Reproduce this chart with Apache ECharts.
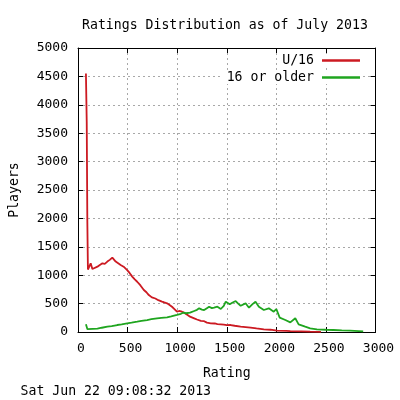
<!DOCTYPE html>
<html>
<head>
<meta charset="utf-8">
<script src="https://cdn.jsdelivr.net/npm/echarts@6/dist/echarts.min.js"></script>
<style>
html,body{margin:0;padding:0;background:#fff;}
#chart{width:400px;height:400px;}
</style>
</head>
<body>
<div id="chart"></div>
<script>
var titleText = 'Ratings Distribution as of July 2013';
var xAxisName = 'Rating';
var yAxisName = 'Players';
var timestamp = 'Sat Jun 22 09:08:32 2013';
var seriesNames = ['U/16', '16 or older'];
var xTicks = [0, 500, 1000, 1500, 2000, 2500, 3000];
var yTicks = [0, 500, 1000, 1500, 2000, 2500, 3000, 3500, 4000, 4500, 5000];

var u16Rating = [80, 88, 94, 100, 112, 128, 145, 162, 196, 220, 246, 270, 296, 320, 346, 380, 400, 430, 460, 496, 520, 547, 570, 597, 630, 664, 690, 714, 745, 780, 810, 847, 870, 898, 920, 948, 975, 998, 1020, 1048, 1070, 1088, 1105, 1130, 1172, 1200, 1239, 1272, 1300, 1339, 1380, 1406, 1440, 1470, 1500, 1540, 1580, 1640, 1690, 1740, 1800, 1874, 1940, 2008, 2100, 2141, 2250, 2341, 2450];
var u16Players = [4550, 3700, 1970, 1100, 1090, 1210, 1110, 1100, 1150, 1180, 1210, 1200, 1240, 1270, 1310, 1240, 1230, 1180, 1150, 1090, 1040, 975, 930, 885, 820, 740, 700, 650, 610, 590, 560, 535, 520, 505, 480, 445, 400, 357, 370, 357, 340, 330, 300, 270, 240, 220, 195, 190, 165, 153, 150, 140, 135, 130, 120, 123, 110, 93, 85, 76, 62, 47, 40, 23, 20, 15, 10, 5, 2];

var olderRating = [80, 95, 112, 150, 196, 240, 296, 340, 396, 440, 496, 540, 597, 640, 697, 740, 797, 840, 898, 940, 998, 1038, 1060, 1088, 1105, 1130, 1172, 1200, 1222, 1250, 1272, 1300, 1322, 1350, 1372, 1406, 1440, 1470, 1490, 1510, 1530, 1560, 1590, 1615, 1640, 1690, 1724, 1760, 1790, 1824, 1874, 1924, 1974, 2000, 2034, 2091, 2141, 2191, 2225, 2291, 2341, 2409, 2500, 2576, 2660, 2743, 2876];
var olderPlayers = [135, 50, 53, 55, 58, 75, 93, 105, 123, 135, 153, 165, 181, 195, 211, 225, 241, 250, 259, 275, 300, 320, 340, 330, 357, 340, 370, 390, 417, 395, 387, 420, 445, 420, 428, 445, 405, 460, 533, 500, 487, 520, 545, 500, 463, 505, 428, 490, 533, 445, 387, 417, 357, 405, 252, 211, 170, 241, 135, 93, 65, 47, 40, 35, 28, 23, 12];

function pairs(xs, ys) { return xs.map(function (x, i) { return [x, ys[i]]; }); }

var FONT = 'DejaVu Sans Mono';
var RED = '#cc1a22';
var GREEN = '#1fa51f';

var chart = echarts.init(document.getElementById('chart'), null, {renderer: 'canvas'});
var baseAxis = {
  type: 'value',
  interval: 500,
  axisLine: {show: true, onZero: false, lineStyle: {color: '#000', width: 1}},
  axisTick: {show: true, inside: true, length: 5, lineStyle: {color: '#000'}},
  splitLine: {show: false},
  axisLabel: {show: false}
};
var plainLabel = function (v) { return String(v); };
var option = {
  animation: false,
  backgroundColor: '#fff',
  title: {
    text: titleText,
    left: 82, top: 19, padding: 0,
    textStyle: {fontFamily: FONT, fontSize: 13.2, fontWeight: 'normal', color: '#000'}
  },
  grid: {left: 76.5, right: 24.5, top: 48, bottom: 68, show: false},
  legend: [
    {
      data: [seriesNames[0]], right: 40, top: 54, padding: [0, 0, 0, 4],
      orient: 'vertical', align: 'right', icon: 'rect', itemWidth: 38, itemHeight: 2.5,
      backgroundColor: '#fff',
      textStyle: {fontFamily: FONT, fontSize: 13.2, color: '#000', padding: [0, 3, 0, 0]}
    },
    {
      data: [seriesNames[1]], right: 40, top: 71, padding: [0, 0, 0, 4],
      orient: 'vertical', align: 'right', icon: 'rect', itemWidth: 38, itemHeight: 2.5,
      backgroundColor: '#fff',
      textStyle: {fontFamily: FONT, fontSize: 13.2, color: '#000', padding: [0, 3, 0, 0]}
    }
  ],
  xAxis: [
    Object.assign({}, baseAxis, {
      position: 'bottom', min: xTicks[0], max: xTicks[xTicks.length - 1],
      name: xAxisName, nameLocation: 'middle', nameGap: 35,
      nameTextStyle: {fontFamily: FONT, fontSize: 13.2, color: '#000'},
      splitLine: {show: true, lineStyle: {color: '#a8a8a8', type: [2, 3], width: 1}},
      axisLabel: {show: true, margin: 10, padding: [0, 0, 0, 6], fontFamily: FONT, fontSize: 13, color: '#000', formatter: plainLabel}
    }),
    Object.assign({}, baseAxis, {position: 'top', min: xTicks[0], max: xTicks[xTicks.length - 1]})
  ],
  yAxis: [
    Object.assign({}, baseAxis, {
      position: 'left', min: yTicks[0], max: yTicks[yTicks.length - 1],
      name: yAxisName, nameLocation: 'middle', nameGap: 57,
      nameTextStyle: {fontFamily: FONT, fontSize: 13.2, color: '#000'},
      splitLine: {show: true, lineStyle: {color: '#a8a8a8', type: [2, 3], width: 1}},
      axisLabel: {show: true, margin: 10, fontFamily: FONT, fontSize: 13, color: '#000', formatter: plainLabel}
    }),
    Object.assign({}, baseAxis, {position: 'right', min: yTicks[0], max: yTicks[yTicks.length - 1]})
  ],
  graphic: [{
    type: 'text', left: 20.5, top: 385,
    style: {text: timestamp, font: '13.2px "DejaVu Sans Mono"', fill: '#000'}
  }],
  series: [
    {
      name: seriesNames[0], type: 'line', xAxisIndex: 0, yAxisIndex: 0,
      data: pairs(u16Rating, u16Players), showSymbol: false, symbol: 'none',
      lineStyle: {color: RED, width: 1.8}, itemStyle: {color: RED}, z: 3
    },
    {
      name: seriesNames[1], type: 'line', xAxisIndex: 0, yAxisIndex: 0,
      data: pairs(olderRating, olderPlayers), showSymbol: false, symbol: 'none',
      lineStyle: {color: GREEN, width: 1.8}, itemStyle: {color: GREEN}, z: 4
    }
  ]
};
chart.setOption(option);
</script>
</body>
</html>
